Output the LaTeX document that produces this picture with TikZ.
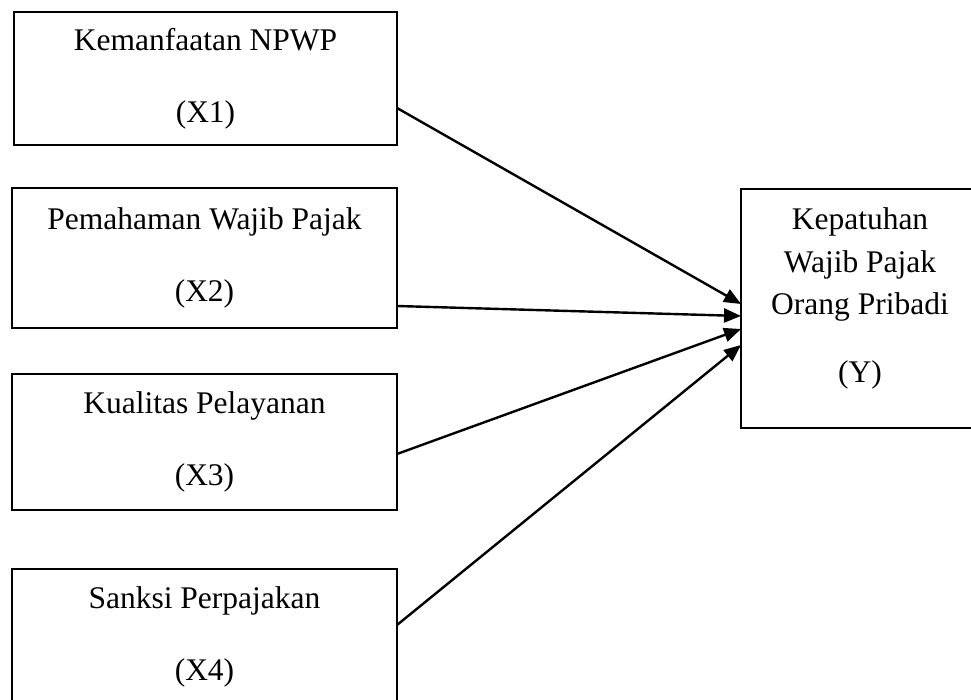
\documentclass[tikz,border=0pt]{standalone}
\usepackage{fontspec}
\setmainfont{Liberation Serif}
\usetikzlibrary{arrows.meta,calc}
\begin{document}
\begin{tikzpicture}[x=1pt,y=1pt,
  varbox/.style={draw=black,line width=2.4pt,rectangle,inner sep=0pt,outer sep=0pt,align=center,
    font=\fontsize{31.5}{42.5}\selectfont},
  ytext/.style={align=center,inner sep=0pt,font=\fontsize{31.5}{42.5}\selectfont},
  conn/.style={line width=2.4pt,-{Triangle[length=17pt,width=14pt]}}]
\useasboundingbox (0,0) rectangle (971,699);
\clip (0,0) rectangle (971,699);
\node[varbox,minimum width=383pt,minimum height=133pt] (x1) at (205.5,620.5) {Kemanfaatan NPWP\\[29.5pt](X1)};
\node[varbox,minimum width=385pt,minimum height=140pt] (x2) at (204.5,441) {Pemahaman Wajib Pajak\\[29.5pt](X2)};
\node[varbox,minimum width=385pt,minimum height=136pt] (x3) at (204.5,257) {Kualitas Pelayanan\\[29.5pt](X3)};
\node[varbox,minimum width=385pt,minimum height=136pt] (x4) at (204.5,62) {Sanksi Perpajakan\\[29.5pt](X4)};
\node[varbox,minimum width=238pt,minimum height=239pt] (y) at (860,390.5) {};
\node[ytext] (yt) at (860,400.5) {Kepatuhan\\Wajib Pajak\\Orang Pribadi\\[25.5pt](Y)};
\draw[conn] ($(x1.east)+(0,-29.5)$) -- ($(y.west)+(0,4.5)$);
\draw[conn] ($(x2.east)+(0,-48)$) -- ($(y.west)+(0,-7.5)$);
\draw[conn] ($(x3.east)+(0,-12)$) -- ($(y.west)+(0,-20.5)$);
\draw[conn] ($(x4.east)+(0,12)$) -- ($(y.west)+(0,-36.5)$);
\end{tikzpicture}
\end{document}
